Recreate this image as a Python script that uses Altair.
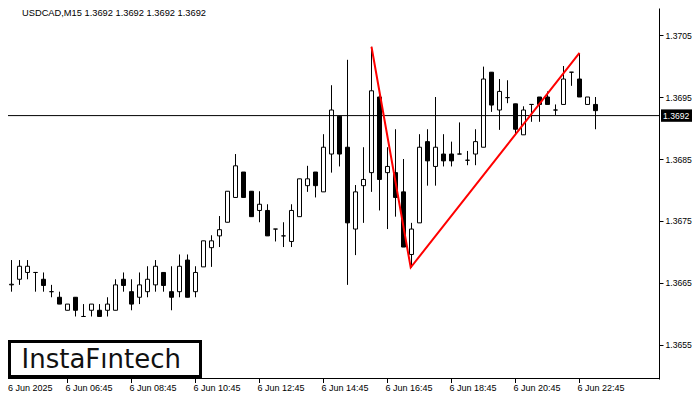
import altair as alt
import pandas as pd

# ---- OHLC values (USDCAD M15) ----
opens = [1.36597, 1.36647, 1.36656, 1.36667, 1.36667, 1.36656, 1.36636, 1.36627, 1.36606, 1.36627,
         1.36596, 1.36606, 1.36606, 1.36606, 1.36606, 1.36656, 1.36636, 1.36627, 1.36636, 1.36647,
         1.36667, 1.36636, 1.36636, 1.36687, 1.36636, 1.36676, 1.36707, 1.36726, 1.36748, 1.36788,
         1.36829, 1.36798, 1.36767, 1.36767, 1.36737, 1.36726, 1.36717, 1.36757, 1.36807, 1.36829,
         1.36797, 1.36858, 1.36919, 1.36869, 1.36737, 1.36807, 1.36828, 1.36950, 1.36828, 1.36828,
         1.36797, 1.36696, 1.36747, 1.36878, 1.36838, 1.36858, 1.36858, 1.36858, 1.36848, 1.36858,
         1.36869, 1.36990, 1.36929, 1.36949, 1.36939, 1.36889, 1.36938, 1.36950, 1.36950, 1.36929,
         1.36938, 1.36990, 1.36979, 1.36938, 1.36938]
highs = [1.36655, 1.36687, 1.36687, 1.36687, 1.36667, 1.36667, 1.36647, 1.36636, 1.36616, 1.36627,
         1.36616, 1.36616, 1.36616, 1.36627, 1.36656, 1.36667, 1.36656, 1.36667, 1.36677, 1.36687,
         1.36667, 1.36677, 1.36696, 1.36696, 1.36677, 1.36718, 1.36727, 1.36758, 1.36798, 1.36858,
         1.36829, 1.36798, 1.36798, 1.36777, 1.36737, 1.36748, 1.36777, 1.36818, 1.36839, 1.36829,
         1.36890, 1.36969, 1.36919, 1.37010, 1.36808, 1.36869, 1.37031, 1.36955, 1.36869, 1.36898,
         1.36850, 1.36747, 1.36890, 1.36898, 1.36950, 1.36890, 1.36878, 1.36909, 1.36863, 1.36898,
         1.36999, 1.36990, 1.36979, 1.36977, 1.36939, 1.36935, 1.36938, 1.36950, 1.36959, 1.36938,
         1.37000, 1.36990, 1.37020, 1.36950, 1.36950]
lows = [1.36575, 1.36636, 1.36647, 1.36656, 1.36636, 1.36636, 1.36627, 1.36616, 1.36606, 1.36596,
        1.36596, 1.36596, 1.36596, 1.36596, 1.36606, 1.36636, 1.36606, 1.36616, 1.36627, 1.36636,
        1.36636, 1.36606, 1.36627, 1.36627, 1.36627, 1.36676, 1.36676, 1.36708, 1.36748, 1.36788,
        1.36788, 1.36757, 1.36748, 1.36726, 1.36717, 1.36708, 1.36708, 1.36757, 1.36797, 1.36788,
        1.36797, 1.36828, 1.36838, 1.36647, 1.36695, 1.36747, 1.36797, 1.36767, 1.36737, 1.36757,
        1.36708, 1.36675, 1.36747, 1.36807, 1.36807, 1.36838, 1.36838, 1.36858, 1.36840, 1.36840,
        1.36869, 1.36926, 1.36897, 1.36940, 1.36890, 1.36889, 1.36910, 1.36910, 1.36938, 1.36921,
        1.36938, 1.36968, 1.36950, 1.36938, 1.36898]
closes = [1.36640, 1.36648, 1.36677, 1.36677, 1.36667, 1.36646, 1.36636, 1.36616, 1.36616, 1.36606,
          1.36596, 1.36616, 1.36596, 1.36616, 1.36647, 1.36646, 1.36616, 1.36647, 1.36656, 1.36677,
          1.36646, 1.36627, 1.36677, 1.36627, 1.36667, 1.36718, 1.36718, 1.36736, 1.36798, 1.36839,
          1.36788, 1.36757, 1.36777, 1.36726, 1.36737, 1.36726, 1.36767, 1.36818, 1.36818, 1.36807,
          1.36869, 1.36929, 1.36858, 1.36747, 1.36797, 1.36817, 1.36960, 1.36817, 1.36838, 1.36788,
          1.36708, 1.36737, 1.36869, 1.36847, 1.36869, 1.36847, 1.36847, 1.36858, 1.36848, 1.36878,
          1.36979, 1.36937, 1.36959, 1.36949, 1.36898, 1.36929, 1.36938, 1.36938, 1.36938, 1.36929,
          1.36979, 1.36990, 1.36950, 1.36950, 1.36928]

# Pattern (red) line vertices: candle index and price
pattern_idx = [46, 50.9, 72]
pattern_price = [1.37031, 1.36675, 1.37021]

current_price = 1.3692
title_text = "USDCAD,M15  1.3692 1.3692 1.3692 1.3692"

x_tick_idx = [0, 8, 16, 24, 32, 40, 48, 56, 64, 72]
x_tick_labels = ["6 Jun 2025", "6 Jun 06:45", "6 Jun 08:45", "6 Jun 10:45", "6 Jun 12:45",
                 "6 Jun 14:45", "6 Jun 16:45", "6 Jun 18:45", "6 Jun 20:45", "6 Jun 22:45"]
y_tick_values = [1.3655, 1.3665, 1.3675, 1.3685, 1.3695, 1.3705]

W, H = 651, 371
FONT = "Liberation Sans"

df = pd.DataFrame({"idx": list(range(len(opens))), "open": opens, "high": highs,
                   "low": lows, "close": closes})

xs = alt.Scale(domain=[0.5625, 81.9375], nice=False, zero=False, padding=0)
ys = alt.Scale(domain=[1.3649516, 1.3709355], nice=False, zero=False, padding=0)

yaxis = alt.Axis(orient="right", values=y_tick_values, format=".4f", title=None, grid=False,
                 tickSize=4, tickColor="black", domainColor="black", labelColor="black",
                 labelFont=FONT, labelFontSize=8.6, labelPadding=2)

base = alt.Chart(df)
wick = base.mark_rule(color="black", strokeWidth=1).encode(
    x=alt.X("idx:Q", scale=xs, axis=None),
    y=alt.Y("low:Q", scale=ys, axis=yaxis),
    y2="high:Q",
)
body = base.mark_bar(size=4, stroke="black", strokeWidth=1).encode(
    x=alt.X("idx:Q", scale=xs, axis=None),
    y=alt.Y("open:Q", scale=ys),
    y2="close:Q",
    fill=alt.when(alt.datum.close >= alt.datum.open).then(alt.value("white")).otherwise(alt.value("black")),
)

price_df = pd.DataFrame({"p": [current_price], "lab": [f"{current_price:.4f}"]})
price_rule = alt.Chart(price_df).mark_rule(color="black", strokeWidth=1).encode(
    y=alt.Y("p:Q", scale=ys), x=alt.value(0), x2=alt.value(W))
price_box = alt.Chart(price_df).transform_calculate(
    top="datum.p + 0.0001", bot="datum.p - 0.0001"
).mark_rect(color="black", clip=False).encode(
    x=alt.value(653), x2=alt.value(684), y=alt.Y("top:Q", scale=ys), y2="bot:Q")
price_text = alt.Chart(price_df).mark_text(
    align="left", baseline="middle", color="white", font=FONT, fontSize=8.6, clip=False
).encode(x=alt.value(655), y=alt.Y("p:Q", scale=ys), text="lab:N")

pat_df = pd.DataFrame({"idx": pattern_idx, "price": pattern_price, "o": [0, 1, 2]})
pattern = alt.Chart(pat_df).mark_line(color="#ff0000", strokeWidth=2).encode(
    x=alt.X("idx:Q", scale=xs), y=alt.Y("price:Q", scale=ys), order="o:Q")

lab_df = pd.DataFrame({"idx": x_tick_idx, "label": x_tick_labels})
xticks = alt.Chart(lab_df).mark_rule(color="black", clip=False).encode(
    x=alt.X("idx:Q", scale=xs), y=alt.value(H), y2=alt.value(H + 4))
xlabels = alt.Chart(lab_df).transform_calculate(lx="max(datum.idx, 0.8125)").mark_text(
    align="left", baseline="middle", dx=-2, font=FONT, fontSize=9, color="black", clip=False
).encode(x=alt.X("lx:Q", scale=xs), y=alt.value(H + 9), text="label:N")

bottom_frame = alt.Chart(lab_df).mark_rule(color="black", strokeWidth=1).encode(
    x=alt.value(0), x2=alt.value(W), y=alt.value(H - 0.5))

logo_df = pd.DataFrame({"t": ["InstaFıntech"]})
logo_box = alt.Chart(logo_df).mark_rect(fill="white", stroke="black", strokeWidth=3).encode(
    x=alt.value(1.5), x2=alt.value(192.5), y=alt.value(333.5), y2=alt.value(368.5))
logo_text = alt.Chart(logo_df).mark_text(
    align="left", baseline="alphabetic", font="DejaVu Sans", fontSize=26, color="#111111"
).encode(x=alt.value(13.5), y=alt.value(359.5), text="t:N")

title_df = pd.DataFrame({"t": [title_text]})
title = alt.Chart(title_df).mark_text(
    align="left", baseline="alphabetic", font=FONT, fontSize=9.3, color="black"
).encode(x=alt.value(14), y=alt.value(8), text="t:N")

chart = alt.layer(
    wick, body, price_rule, pattern, logo_box, logo_text, title,
    price_box, price_text, xticks, xlabels, bottom_frame
).properties(
    width=W, height=H,
    autosize=alt.AutoSizeParams(type="none"),
    padding={"left": 0, "top": 0, "right": 33, "bottom": 13},
    background="white",
).configure_view(stroke=None)

chart.save("out.html", embed_options={"renderer": "svg", "actions": False})
